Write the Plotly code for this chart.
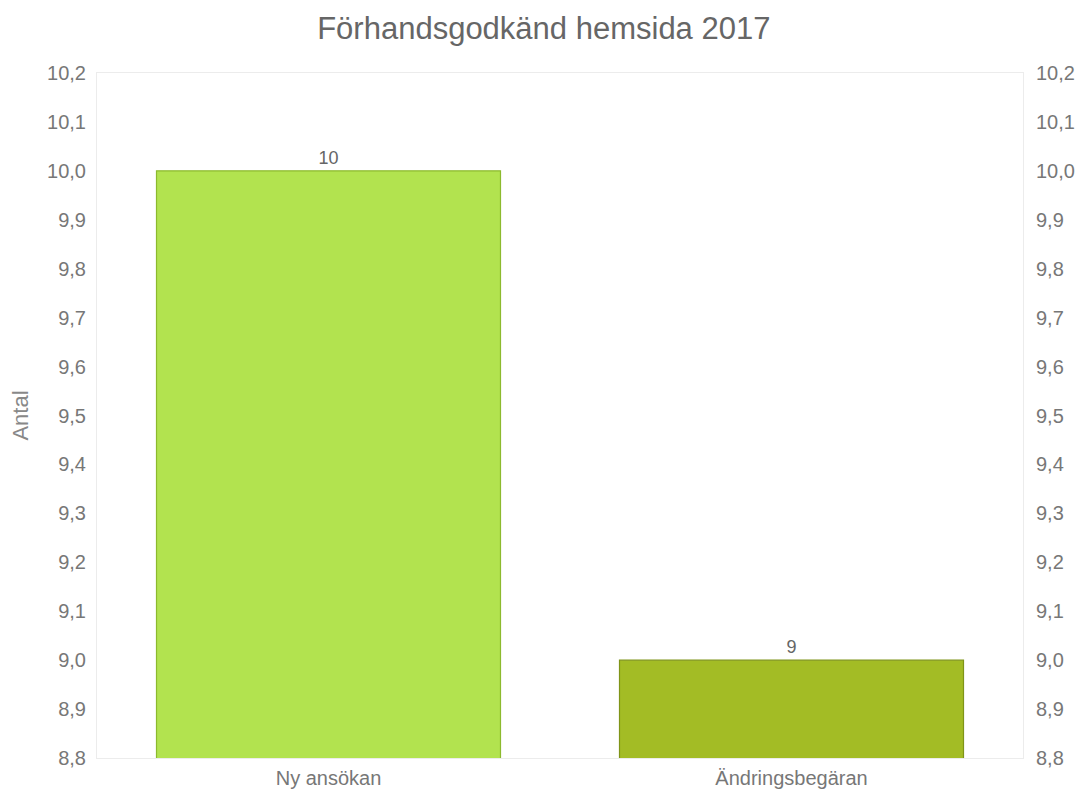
import plotly.graph_objects as go

categories = ["Ny ansökan", "Ändringsbegäran"]
values = [10, 9]
bar_colors = ["#b2e34f", "#a3bc25"]
line_colors = ["#8cba2e", "#7f9418"]

y_range = [8.8, 10.2]
y_ticks = [8.8, 8.9, 9.0, 9.1, 9.2, 9.3, 9.4, 9.5, 9.6, 9.7, 9.8, 9.9, 10.0, 10.1, 10.2]

fig = go.Figure()
fig.add_trace(go.Bar(
    x=categories,
    y=values,
    marker=dict(color=bar_colors, line=dict(color=line_colors, width=1.2)),
    width=0.743,
    text=[str(v) for v in values],
    textposition="outside",
    cliponaxis=False,
    textfont=dict(size=18, color="#666666"),
    showlegend=False,
))
# invisible trace so the right-hand axis gets drawn
fig.add_trace(go.Scatter(x=categories, y=values, yaxis="y2", mode="markers",
                         marker=dict(opacity=0), showlegend=False, hoverinfo="skip"))

axis_font = dict(family="Liberation Sans, Arial, sans-serif", size=20, color="#777777")
fig.update_layout(
    width=1079, height=792,
    separators=",.",
    title=dict(text="Förhandsgodkänd hemsida 2017", x=0.504, xanchor="center",
               y=0.965, yanchor="middle",
               font=dict(family="Liberation Sans, Arial, sans-serif", size=31, color="#666666")),
    margin=dict(l=97, r=56, t=73, b=34),
    plot_bgcolor="white",
    paper_bgcolor="white",
    font=dict(family="Liberation Sans, Arial, sans-serif"),
    xaxis=dict(showgrid=False, showline=True, linecolor="#ececec", linewidth=1, mirror=True,
               ticks="", tickfont=axis_font, zeroline=False, ticklabelstandoff=2,
               automargin=False),
    yaxis=dict(range=y_range, tickvals=y_ticks, tickformat=".1f", showgrid=False,
               showline=True, linecolor="#ececec", mirror=True, ticks="", zeroline=False,
               tickfont=axis_font, ticklabelstandoff=6, automargin=False,
               title=dict(text="Antal", font=dict(size=22, color="#888888"), standoff=12)),
    yaxis2=dict(range=y_range, tickvals=y_ticks, tickformat=".1f", overlaying="y", side="right",
                showgrid=False, showline=False, ticks="", zeroline=False, tickfont=axis_font,
                ticklabelstandoff=12, automargin=False),
)

# drop the default body margin so the figure sits at the top-left corner
fig.write_html("out.html", config={"displayModeBar": False},
               post_script="document.body.style.margin='0';")
